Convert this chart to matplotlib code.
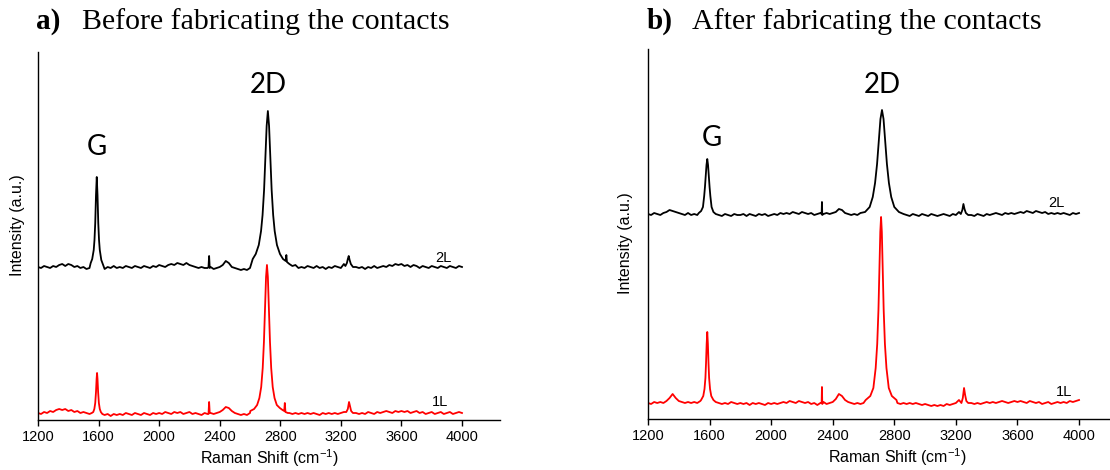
import numpy as np
import matplotlib
matplotlib.use("Agg")
import matplotlib.pyplot as plt

plt.rcParams['font.family'] = ['Liberation Sans', 'DejaVu Sans']
plt.rcParams['mathtext.default'] = 'regular'

# Raman shift sampling grid (cm-1) for the baselines
grid_x = np.arange(1200, 4001, 20)

# ---- panel a: before contacts (intensity in arbitrary units) ----
a2l_base = [153, 152, 154, 153, 152, 154, 153, 155, 156, 154, 156, 155, 153, 154, 152,
            153, 151, 152, 160, 230, 190, 158, 151, 153, 152, 154, 152, 153, 152, 154,
            153, 152, 154, 153, 152, 154, 153, 152, 154, 153, 155, 154, 153, 155, 156,
            155, 157, 156, 155, 157, 155, 154, 153, 152, 153, 152, 152, 153, 151, 152,
            153, 155, 159, 157, 153, 152, 151, 150, 151, 150, 152, 153, 156, 165, 185,
            270, 309, 270, 200, 172, 163, 159, 160, 156, 154, 155, 152, 153, 152, 154,
            153, 152, 154, 152, 153, 151, 153, 152, 154, 153, 152, 156, 160, 159, 154,
            153, 152, 153, 151, 153, 152, 154, 152, 153, 154, 153, 155, 154, 156, 155,
            156, 154, 155, 153, 155, 154, 152, 154, 153, 152, 154, 153, 152, 154, 153,
            152, 154, 153, 152, 154, 153]
a2l_g_x = [1548, 1558, 1568, 1573, 1578, 1583, 1588, 1593, 1598, 1603, 1608, 1618, 1628]
a2l_g_y = [157, 161, 170, 180, 197, 225, 243, 225, 197, 180, 170, 160, 156]
a2l_spike_x = [2326, 2330, 2334]
a2l_spike_y = [153, 164, 152]
a2l_2d_x = [2618, 2638, 2658, 2673, 2683, 2693, 2703, 2710, 2718, 2726, 2733, 2743, 2753,
            2763, 2778, 2798, 2818, 2836, 2840, 2844, 2860]
a2l_2d_y = [161, 166, 175, 189, 205, 230, 267, 294, 309, 294, 267, 230, 205,
            189, 175, 166, 161, 159, 165, 158, 156]
a2l_2dp_x = [3230, 3240, 3246, 3252, 3258, 3266, 3280]
a2l_2dp_y = [154, 157, 161, 164, 160, 156, 153]

a1l_base = [7, 6, 8, 7, 9, 8, 10, 11, 10, 11, 9, 10, 8, 9, 7,
            8, 7, 6, 8, 30, 25, 6, 5, 6, 4, 6, 5, 6, 5, 7,
            6, 5, 7, 6, 5, 7, 6, 5, 7, 6, 7, 6, 8, 7, 6,
            8, 7, 8, 6, 7, 8, 6, 7, 6, 5, 7, 6, 7, 6, 7,
            8, 10, 13, 12, 9, 7, 6, 5, 6, 5, 7, 6, 9, 14, 40,
            140, 100, 30, 14, 9, 8, 7, 6, 7, 6, 7, 6, 7, 6, 7,
            6, 7, 6, 5, 7, 6, 7, 6, 7, 6, 7, 8, 15, 12, 8,
            7, 6, 7, 6, 8, 7, 6, 8, 7, 8, 9, 8, 7, 9, 8,
            9, 8, 9, 7, 8, 9, 7, 8, 6, 7, 8, 6, 7, 8, 6,
            7, 8, 6, 7, 8, 7]
a1l_g_x = [1555, 1565, 1572, 1578, 1583, 1587, 1590, 1593, 1597, 1602, 1608, 1615, 1625]
a1l_g_y = [7, 8, 11, 17, 28, 41, 47, 41, 28, 17, 11, 8, 6]
a1l_spike_x = [2326, 2330, 2334]
a1l_spike_y = [6, 18, 7]
a1l_2d_x = [2602, 2627, 2647, 2662, 2674, 2684, 2692, 2700, 2706, 2712, 2718, 2724, 2732,
            2740, 2750, 2762, 2777, 2797, 2815, 2826, 2830, 2834, 2850]
a1l_2d_y = [9, 11, 15, 22, 33, 52, 78, 115, 143, 155, 143, 115, 78,
            52, 33, 22, 15, 12, 10, 9, 17, 8, 7]
a1l_2dp_x = [3236, 3246, 3254, 3260, 3268, 3280]
a1l_2dp_y = [8, 11, 18, 14, 9, 7]

# ---- panel b: after contacts ----
b2l_base = [205, 204, 206, 205, 204, 206, 207, 209, 208, 207, 206, 205, 204, 206, 204,
            205, 204, 206, 215, 255, 240, 210, 205, 204, 203, 205, 204, 203, 205, 204,
            204, 205, 203, 205, 204, 203, 205, 204, 205, 203, 204, 205, 204, 206, 205,
            206, 205, 207, 206, 205, 207, 206, 205, 206, 204, 205, 206, 205, 206, 205,
            206, 207, 210, 209, 206, 205, 204, 205, 204, 205, 206, 207, 210, 218, 240,
            290, 305, 290, 250, 225, 212, 208, 206, 205, 204, 203, 205, 204, 203, 205,
            204, 203, 205, 204, 203, 204, 205, 204, 203, 205, 204, 207, 212, 210, 205,
            204, 203, 205, 204, 203, 205, 204, 205, 206, 205, 204, 206, 205, 206, 205,
            206, 207, 206, 208, 207, 206, 208, 207, 206, 207, 205, 206, 205, 206, 205,
            206, 205, 204, 206, 205, 206]
b2l_g_x = [1530, 1545, 1557, 1565, 1570, 1575, 1580, 1585, 1590, 1595, 1600, 1605, 1613, 1625, 1640]
b2l_g_y = [206, 208, 212, 223, 232, 243, 254, 260, 254, 243, 232, 223, 212, 207, 205]
b2l_spike_x = [2328, 2330, 2332]
b2l_spike_y = [205, 217, 204]
b2l_2d_x = [2580, 2610, 2640, 2660, 2675, 2688, 2700, 2710, 2720, 2730, 2740, 2752, 2765,
            2780, 2800, 2830, 2860]
b2l_2d_y = [206, 207, 212, 222, 236, 255, 280, 300, 309, 300, 280, 255, 236,
            222, 212, 207, 205]
b2l_2dp_x = [3232, 3242, 3249, 3256, 3265, 3280]
b2l_2dp_y = [205, 209, 215, 210, 206, 204]

b1l_base = [16, 15, 17, 16, 17, 16, 18, 21, 25, 21, 18, 17, 16, 17, 16,
            17, 16, 18, 22, 70, 50, 20, 17, 16, 15, 16, 15, 17, 16, 15,
            16, 15, 16, 14, 16, 15, 16, 15, 14, 16, 15, 16, 15, 16, 17,
            16, 18, 17, 16, 18, 17, 16, 17, 15, 16, 14, 16, 17, 15, 16,
            17, 20, 25, 23, 19, 17, 16, 15, 16, 15, 16, 17, 20, 28, 60,
            180, 190, 90, 40, 22, 18, 16, 15, 16, 15, 16, 15, 16, 15, 14,
            15, 14, 13, 14, 13, 14, 13, 15, 14, 15, 16, 19, 26, 24, 17,
            16, 15, 16, 15, 16, 17, 16, 17, 16, 17, 18, 17, 16, 17, 18,
            17, 18, 17, 16, 18, 17, 16, 17, 15, 16, 17, 15, 16, 17, 16,
            17, 16, 18, 17, 18, 19]
b1l_g_x = [1545, 1559, 1567, 1573, 1577, 1581, 1585, 1589, 1593, 1597, 1603, 1611, 1625]
b1l_g_y = [19, 23, 30, 41, 56, 75, 87, 75, 56, 41, 30, 23, 19]
b1l_spike_x = [2328, 2330, 2332]
b1l_spike_y = [16, 32, 15]
b1l_2d_x = [2614, 2644, 2664, 2679, 2689, 2697, 2704, 2709, 2714, 2719, 2724, 2731, 2739,
            2749, 2764, 2784, 2814]
b1l_2d_y = [19, 23, 31, 51, 75, 109, 154, 187, 202, 187, 154, 109, 75,
            51, 31, 23, 19]
b1l_2dp_x = [3236, 3245, 3253, 3260, 3268, 3280]
b1l_2dp_y = [16, 21, 31, 24, 18, 16]

ticks = [1200, 1600, 2000, 2400, 2800, 3200, 3600, 4000]


# put the finely read peak points into the coarse baseline
def spectrum(base, peaks):
    x = grid_x.astype(float)
    y = np.array(base, dtype=float)
    for px, py in peaks:
        keep = (x < min(px)) | (x > max(px))
        x = np.concatenate([x[keep], px])
        y = np.concatenate([y[keep], py])
    order = np.argsort(x)
    return x[order], y[order]


spectra_a = [
    (spectrum(a2l_base, [(a2l_g_x, a2l_g_y), (a2l_spike_x, a2l_spike_y),
                         (a2l_2d_x, a2l_2d_y), (a2l_2dp_x, a2l_2dp_y)]), 'black'),
    (spectrum(a1l_base, [(a1l_g_x, a1l_g_y), (a1l_spike_x, a1l_spike_y),
                         (a1l_2d_x, a1l_2d_y), (a1l_2dp_x, a1l_2dp_y)]), 'red'),
]
spectra_b = [
    (spectrum(b2l_base, [(b2l_g_x, b2l_g_y), (b2l_spike_x, b2l_spike_y),
                         (b2l_2d_x, b2l_2d_y), (b2l_2dp_x, b2l_2dp_y)]), 'black'),
    (spectrum(b1l_base, [(b1l_g_x, b1l_g_y), (b1l_spike_x, b1l_spike_y),
                         (b1l_2d_x, b1l_2d_y), (b1l_2dp_x, b1l_2dp_y)]), 'red'),
]

W, H = 1110, 470
fig = plt.figure(figsize=(W / 100, H / 100), dpi=100)

# axes boxes in pixels: left, right, bottom, top
ax_a = fig.add_axes([38 / W, (H - 420) / H, (500 - 38) / W, (420 - 52) / H])
ax_b = fig.add_axes([648 / W, (H - 419) / H, (1146 - 648) / W, (419 - 49) / H])

setup = [
    (ax_a, spectra_a, 4251, 368, 'a)', 'Before fabricating the contacts', 36, 82,
     (1588, 273), (2718, 335), (3875, 162), (3855, 18), 0.53),
    (ax_b, spectra_b, 4435, 370, 'b)', 'After fabricating the contacts', 647, 692,
     (1616, 281), (2720, 334), (3851, 216), (3903, 27), 0.476),
]

for (ax, spectra, xmax, ymax, letter, title, lx, tx, g_pos, d_pos,
     l2_pos, l1_pos, ylab_y) in setup:
    for (x, y), c in spectra:
        ax.plot(x, y, color=c, lw=1.3)
    ax.set_xlim(1200, xmax)
    ax.set_ylim(0, ymax)
    ax.set_xticks(ticks)
    ax.set_yticks([])
    for s in ['top', 'right']:
        ax.spines[s].set_visible(False)
    for s in ['left', 'bottom']:
        ax.spines[s].set_linewidth(1.0)
    ax.tick_params(axis='x', direction='out', length=4.3, width=1.0,
                   labelsize=10.5, pad=3)
    ax.set_xlabel('Raman Shift (cm$^{-1}$)', fontsize=11.5, labelpad=2)
    ax.text(-0.045, ylab_y, 'Intensity (a.u.)', transform=ax.transAxes,
            rotation=90, ha='center', va='center', fontsize=11.5)
    ax.text(g_pos[0], g_pos[1], 'G', family='Lato', fontsize=20,
            ha='center', va='center')
    ax.text(d_pos[0], d_pos[1], '2D', family='Lato', fontsize=20,
            ha='center', va='center')
    ax.text(l2_pos[0], l2_pos[1], '2L', fontsize=10.5, ha='center', va='center')
    ax.text(l1_pos[0], l1_pos[1], '1L', fontsize=10.5, ha='center', va='center')
    fig.text(lx / W, (H - 29) / H, letter, family='Liberation Serif',
             weight='bold', fontsize=21, va='baseline')
    fig.text(tx / W, (H - 29) / H, title, family='Liberation Serif',
             fontsize=21.5, va='baseline')

fig.savefig('out.png', dpi=100)
